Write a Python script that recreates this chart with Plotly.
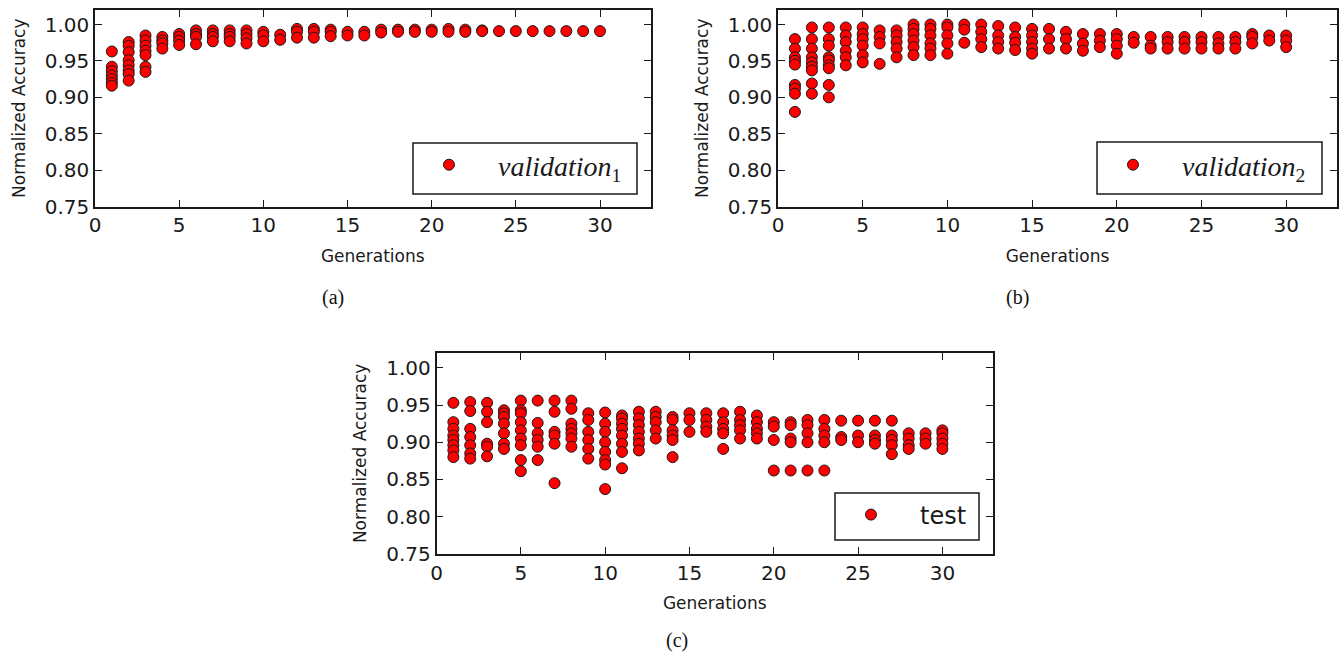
import plotly.graph_objects as go

W, H = 1344, 656

# Accuracy of each individual per generation (one inner list per generation 1..30)
GENERATIONS = list(range(1, 31))

VALIDATION_1 = [
    [0.963, 0.942, 0.936, 0.930, 0.925, 0.920, 0.916],
    [0.976, 0.971, 0.962, 0.951, 0.944, 0.937, 0.932, 0.923],
    [0.985, 0.978, 0.971, 0.964, 0.958, 0.942, 0.935],
    [0.983, 0.978, 0.974, 0.967],
    [0.987, 0.983, 0.978, 0.972],
    [0.992, 0.987, 0.983, 0.973],
    [0.992, 0.987, 0.983, 0.977],
    [0.992, 0.987, 0.983, 0.977],
    [0.992, 0.987, 0.981, 0.974],
    [0.990, 0.985, 0.977],
    [0.986, 0.979],
    [0.994, 0.990, 0.982],
    [0.994, 0.990, 0.982],
    [0.993, 0.990, 0.984],
    [0.990, 0.985],
    [0.990, 0.985],
    [0.993, 0.989],
    [0.993, 0.990],
    [0.993, 0.990],
    [0.993, 0.990],
    [0.994, 0.990],
    [0.993, 0.990],
    [0.992, 0.991],
    [0.991],
    [0.991],
    [0.991],
    [0.991],
    [0.991],
    [0.991],
    [0.991],
]

VALIDATION_2 = [
    [0.980, 0.967, 0.955, 0.950, 0.945, 0.917, 0.912, 0.905, 0.880],
    [0.996, 0.980, 0.967, 0.955, 0.948, 0.942, 0.937, 0.919, 0.905],
    [0.996, 0.980, 0.971, 0.955, 0.951, 0.944, 0.940, 0.917, 0.900],
    [0.996, 0.985, 0.976, 0.964, 0.955, 0.944],
    [0.996, 0.987, 0.980, 0.971, 0.958, 0.948],
    [0.992, 0.983, 0.974, 0.946],
    [0.992, 0.985, 0.976, 0.967, 0.955],
    [1.000, 0.994, 0.987, 0.978, 0.969, 0.958],
    [1.000, 0.994, 0.985, 0.974, 0.967, 0.958],
    [1.000, 0.996, 0.985, 0.974, 0.960],
    [1.000, 0.993, 0.975],
    [1.000, 0.990, 0.980, 0.969],
    [0.998, 0.985, 0.976, 0.967],
    [0.996, 0.983, 0.975, 0.965],
    [0.994, 0.985, 0.976, 0.967, 0.960],
    [0.994, 0.980, 0.967],
    [0.990, 0.980, 0.967],
    [0.987, 0.974, 0.964],
    [0.987, 0.978, 0.969],
    [0.987, 0.980, 0.971, 0.960],
    [0.983, 0.975],
    [0.983, 0.971, 0.967],
    [0.983, 0.976, 0.967],
    [0.983, 0.976, 0.967],
    [0.983, 0.976, 0.967],
    [0.983, 0.974, 0.967],
    [0.983, 0.976, 0.967],
    [0.987, 0.983, 0.974],
    [0.985, 0.978],
    [0.985, 0.978, 0.969],
]

TEST = [
    [0.953, 0.927, 0.918, 0.909, 0.903, 0.896, 0.889, 0.880],
    [0.954, 0.942, 0.918, 0.907, 0.896, 0.885, 0.878],
    [0.953, 0.941, 0.927, 0.898, 0.894, 0.881],
    [0.943, 0.939, 0.934, 0.925, 0.912, 0.898, 0.891],
    [0.956, 0.943, 0.939, 0.927, 0.916, 0.905, 0.896, 0.876, 0.861],
    [0.956, 0.926, 0.912, 0.903, 0.894, 0.876],
    [0.956, 0.941, 0.914, 0.909, 0.898, 0.845],
    [0.956, 0.945, 0.925, 0.918, 0.912, 0.905, 0.894],
    [0.939, 0.930, 0.914, 0.903, 0.891, 0.878],
    [0.940, 0.925, 0.914, 0.900, 0.887, 0.876, 0.870, 0.837],
    [0.936, 0.932, 0.925, 0.918, 0.909, 0.898, 0.887, 0.865],
    [0.941, 0.932, 0.923, 0.914, 0.905, 0.898, 0.889],
    [0.941, 0.934, 0.927, 0.916, 0.905],
    [0.934, 0.930, 0.916, 0.909, 0.903, 0.880],
    [0.939, 0.930, 0.914],
    [0.939, 0.930, 0.921, 0.914],
    [0.939, 0.927, 0.918, 0.912, 0.891],
    [0.941, 0.930, 0.923, 0.916, 0.905],
    [0.936, 0.927, 0.918, 0.912, 0.905],
    [0.927, 0.921, 0.903, 0.862],
    [0.927, 0.923, 0.905, 0.900, 0.862],
    [0.930, 0.923, 0.912, 0.900, 0.862],
    [0.930, 0.918, 0.909, 0.900, 0.862],
    [0.929, 0.907, 0.903],
    [0.929, 0.909, 0.900],
    [0.929, 0.909, 0.903, 0.898],
    [0.929, 0.909, 0.903, 0.896, 0.884],
    [0.912, 0.905, 0.896, 0.891],
    [0.912, 0.905, 0.898],
    [0.916, 0.912, 0.905, 0.898, 0.891],
]

X_TICKS = [0, 5, 10, 15, 20, 25, 30]
Y_TICKS = [0.75, 0.80, 0.85, 0.90, 0.95, 1.00]
Y_TICK_TEXT = ["0.75", "0.80", "0.85", "0.90", "0.95", "1.00"]
X_TITLE = "Generations"
Y_TITLE = "Normalized Accuracy"
CAPTIONS = ["(a)", "(b)", "(c)"]

TEXT = "#1a1a1a"


def px(x):
    return x / W


def py(y):
    return 1 - y / H


def flatten(per_gen):
    xs, ys = [], []
    for g, vals in zip(GENERATIONS, per_gen):
        for v in vals:
            xs.append(g)
            ys.append(v)
    return xs, ys


# panel geometry in pixels: plot box (left, right, top, bottom), legend frame,
# legend marker position and caption centre
panels = [
    dict(data=VALIDATION_1, name="<i>validation</i><sub>1</sub>", box=(95, 650.5, 10, 206.5),
         leg_box=(413, 637, 143, 194), leg_marker=(450, 165),
         leg_font=dict(family="Liberation Serif", size=28), caption=(333, 297)),
    dict(data=VALIDATION_2, name="<i>validation</i><sub>2</sub>", box=(778, 1337, 10, 206.5),
         leg_box=(1097, 1322, 142, 194), leg_marker=(1134, 165),
         leg_font=dict(family="Liberation Serif", size=28), caption=(1017, 297)),
    dict(data=TEST, name="test", box=(436.5, 993, 353, 553.8),
         leg_box=(835, 979, 493, 540), leg_marker=(872, 515),
         leg_font=dict(family="DejaVu Sans", size=24), caption=(677, 640)),
]

fig = go.Figure()
layout = dict(
    width=W, height=H,
    margin=dict(l=0, r=0, t=0, b=0, autoexpand=False),
    paper_bgcolor="white", plot_bgcolor="white",
    font=dict(family="DejaVu Sans", color=TEXT),
    shapes=[], annotations=[],
)

for i, p in enumerate(panels):
    n = "" if i == 0 else str(i + 1)
    xs, ys = flatten(p["data"])
    leg = "legend" if i == 0 else f"legend{i + 1}"
    fig.add_trace(go.Scatter(
        x=xs, y=ys, mode="markers", name=p["name"],
        xaxis=f"x{n}", yaxis=f"y{n}", legend=leg,
        marker=dict(color="#ff0000", size=11, line=dict(color="#1a1a1a", width=1)),
        showlegend=True,
    ))
    l, r, t, b = p["box"]
    axis_common = dict(
        showgrid=False, zeroline=False, showline=True, linecolor="#1a1a1a", linewidth=1.5,
        mirror="allticks", ticks="inside", ticklen=7, tickwidth=1, tickcolor="#1a1a1a",
        tickfont=dict(family="DejaVu Sans", size=20, color=TEXT), automargin=False,
    )
    layout[f"xaxis{n}"] = dict(
        axis_common, domain=[px(l), px(r)], range=[0, 33], tickvals=X_TICKS,
        anchor=f"y{n}", ticklabelstandoff=0,
        title=dict(text=X_TITLE, font=dict(size=17, color=TEXT), standoff=14),
    )
    layout[f"yaxis{n}"] = dict(
        axis_common, domain=[py(b), py(t)], range=[0.75, 1.02],
        tickvals=Y_TICKS, ticktext=Y_TICK_TEXT, anchor=f"x{n}", ticklabelstandoff=0,
        title=dict(text=Y_TITLE, font=dict(size=17, color=TEXT), standoff=15),
    )
    lx0, lx1, ly0, ly1 = p["leg_box"]
    layout["shapes"].append(dict(
        type="rect", xref="paper", yref="paper",
        x0=px(lx0), x1=px(lx1), y0=py(ly1), y1=py(ly0),
        line=dict(color="#1a1a1a", width=1.5), fillcolor="rgba(0,0,0,0)", layer="above",
    ))
    mx, my = p["leg_marker"]
    layout[leg] = dict(
        x=px(mx - 50), y=py(my), xanchor="left", yanchor="middle",
        bgcolor="rgba(0,0,0,0)", borderwidth=0, itemwidth=88,
        font=dict(p["leg_font"], color=TEXT),
    )
    cx, cy = p["caption"]
    layout["annotations"].append(dict(
        text=CAPTIONS[i], xref="paper", yref="paper", x=px(cx), y=py(cy),
        xanchor="center", yanchor="middle", showarrow=False,
        font=dict(family="Liberation Serif", size=20, color="#111111"),
    ))

fig.update_layout(**layout)
fig.write_html("out.html")
